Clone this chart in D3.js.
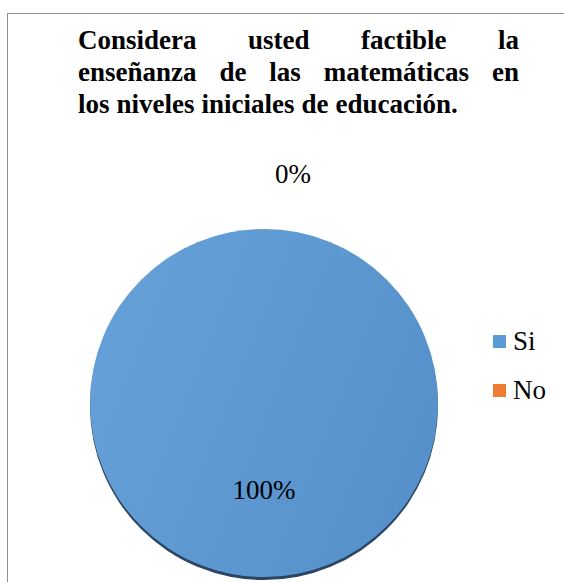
<!DOCTYPE html>
<html>
<head>
<meta charset="utf-8">
<script src="https://cdn.jsdelivr.net/npm/d3@7"></script>
<style>
	body { margin: 0; background: #fff; font-family: "Liberation Serif", serif; }
	svg { display: block; }
</style>
</head>
<body>
<div id="grafico"></div>
<script>
var width = 564;
var height = 582;

// datos
var categories = ["Si", "No"];
var values = [100, 0];
var colors = ["#5B9BD5", "#ED7D31"];
var titleLines = [
	"Considera usted factible la",
	"enseñanza de las matemáticas en",
	"los niveles iniciales de educación."
];

var fontFamily = "Liberation Serif";

function drawChart() {
	d3.select("#grafico").selectAll("*").remove();

	var svg = d3.select("#grafico")
		.append("svg")
		.attr("width", width)
		.attr("height", height)
		.attr("font-family", fontFamily);

	// gradiente
	var defs = svg.append("defs");
	var grad = defs.append("linearGradient")
		.attr("id", "blueGrad")
		.attr("x1", "0%").attr("y1", "30%")
		.attr("x2", "100%").attr("y2", "70%");
	grad.append("stop").attr("offset", "0%").attr("stop-color", "#65a0d8");
	grad.append("stop").attr("offset", "100%").attr("stop-color", "#5590ca");

	// borde del área
	svg.append("rect")
		.attr("x", 7.5).attr("y", 13.5)
		.attr("width", width + 20).attr("height", height + 20)
		.attr("fill", "none")
		.attr("stroke", "#8c8c8c")
		.attr("stroke-width", 1);

	// título justificado
	var titleX0 = 78, titleX1 = 519;
	titleLines.forEach(function(line, li) {
		var words = line.split(" ");
		var t = svg.append("text")
			.attr("y", 49 + li * 32)
			.attr("font-family", fontFamily)
			.attr("font-size", 27)
			.attr("font-weight", "bold")
			.attr("fill", "#000");
		var spans = words.map(function(w) {
			return t.append("tspan").text(w);
		});
		var widths = spans.map(function(s) { return s.node().getComputedTextLength(); });
		var total = d3.sum(widths);
		var last = li === titleLines.length - 1;
		var gap = last ? 7 : (titleX1 - titleX0 - total) / (words.length - 1);
		var x = titleX0;
		spans.forEach(function(s, i) {
			s.attr("x", x);
			x += widths[i] + gap;
		});
	});

	// pastel
	var cx = 264, cy = 403, r = 174;
	var pie = d3.pie().sort(null).value(function(d) { return d; });
	var arcs = pie(values);
	var arc = d3.arc().innerRadius(0).outerRadius(r);
	var labelArc = d3.arc().innerRadius(r * 1.32).outerRadius(r * 1.32);

	var g = svg.append("g").attr("transform", "translate(" + cx + "," + cy + ")");

	// sombra inferior
	g.append("g")
		.attr("transform", "translate(0,3)")
		.selectAll("path")
		.data(arcs)
		.join("path")
		.attr("d", arc)
		.attr("fill", "#2b4563");

	g.append("g")
		.selectAll("path")
		.data(arcs)
		.join("path")
		.attr("d", arc)
		.attr("fill", function(d, i) { return i === 0 ? "url(#blueGrad)" : colors[i]; });

	// etiquetas
	var total = d3.sum(values);
	g.selectAll("text.lbl")
		.data(arcs)
		.join("text")
		.attr("class", "lbl")
		.attr("transform", function(d) {
			var c = d.value > 0 ? arc.centroid(d) : labelArc.centroid(d);
			if (d.value === 0) c[0] += 29;
			return "translate(" + c[0] + "," + c[1] + ")";
		})
		.attr("text-anchor", "middle")
		.attr("dy", "0.35em")
		.attr("font-family", fontFamily)
		.attr("font-size", 27)
		.attr("fill", "#000")
		.text(function(d) { return Math.round(d.value / total * 100) + "%"; });

	// leyenda
	var legend = svg.append("g").attr("transform", "translate(493,335)");
	var item = legend.selectAll("g")
		.data(categories)
		.join("g")
		.attr("transform", function(d, i) { return "translate(0," + i * 49 + ")"; });
	item.append("rect")
		.attr("width", 13).attr("height", 13)
		.attr("fill", function(d, i) { return colors[i]; });
	item.append("text")
		.attr("x", 20).attr("y", 15)
		.attr("font-family", fontFamily)
		.attr("font-size", 27)
		.attr("fill", "#000")
		.text(function(d) { return d; });
}

drawChart();

// volver a dibujar cuando la fuente serif esté cargada
if (document.fonts && document.fonts.load) {
	Promise.all([
		document.fonts.load("27px 'Liberation Serif'"),
		document.fonts.load("bold 27px 'Liberation Serif'")
	]).then(drawChart, drawChart);
}
</script>
</body>
</html>
